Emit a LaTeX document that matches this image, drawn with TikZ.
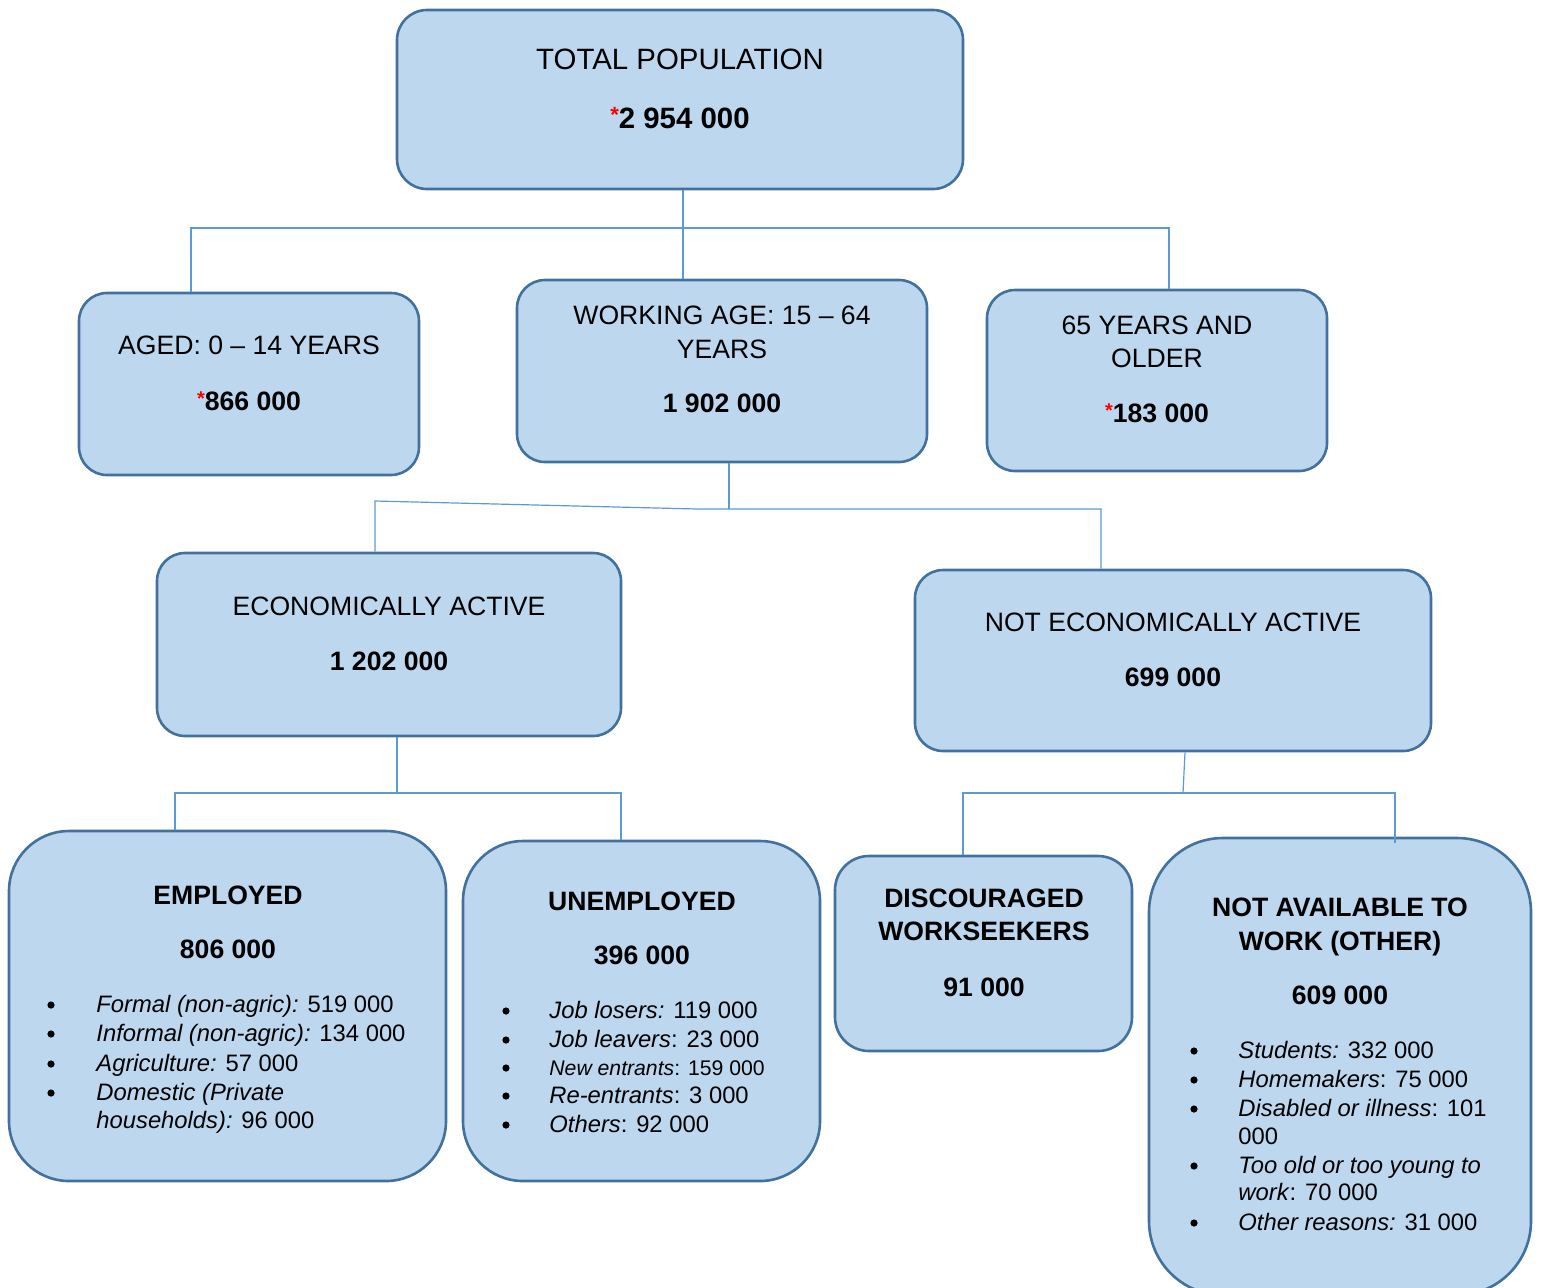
\documentclass[tikz,border=0pt]{standalone}
\usepackage{fontspec}
\usepackage{graphicx}
\setmainfont{Liberation Sans}
\definecolor{boxfill}{HTML}{BDD7EE}
\definecolor{boxline}{HTML}{41719C}
\definecolor{connc}{HTML}{5B9BD5}
\newcommand{\redast}{{\color{red}\bfseries\raisebox{0.2em}{\scalebox{0.75}{*}}}}
\tikzset{
  box/.style={draw=boxline, fill=boxfill, line width=1.3pt, rounded corners=14pt, inner sep=0pt},
  conn/.style={draw=connc, line width=0.6pt},
  tx/.style={inner sep=0pt, anchor=base},
  lx/.style={inner sep=0pt, anchor=base west},
  dot/.style={circle, fill=black, inner sep=0pt, minimum size=3.6pt},
  big/.style={font=\fontsize{14.7}{17}\selectfont},
  mid/.style={font=\fontsize{13.3}{16}\selectfont},
  sm/.style={font=\fontsize{11.9}{14}\selectfont},
  xs/.style={font=\fontsize{10.6}{13}\selectfont},
}
\begin{document}
\begin{tikzpicture}[x=0.5pt,y=-0.5pt]
\useasboundingbox (0,0) rectangle (1541,1287);
% boxes
\node[box, rounded corners=15pt, minimum width=283pt, minimum height=89.5pt] (total) at (680,99.5) {};
\node[box, minimum width=170pt, minimum height=91pt] (aged) at (249,384) {};
\node[box, minimum width=205pt, minimum height=91pt] (work) at (722,371) {};
\node[box, minimum width=170pt, minimum height=90.5pt] (old) at (1157,380.5) {};
\node[box, minimum width=232pt, minimum height=91.5pt] (econ) at (389,644.5) {};
\node[box, minimum width=258pt, minimum height=90.5pt] (notecon) at (1173,660.5) {};
\node[box, rounded corners=30pt, minimum width=218.5pt, minimum height=175pt] (emp) at (227.5,1006) {};
\node[box, rounded corners=30pt, minimum width=178.5pt, minimum height=170pt] (unemp) at (641.5,1011) {};
\node[box, rounded corners=17pt, minimum width=148.5pt, minimum height=97.5pt] (disc) at (983.5,953.5) {};
\node[box, rounded corners=37pt, minimum width=191pt, minimum height=228.5pt] (avail) at (1340,1066.5) {};
% junction coordinates
\coordinate (j1) at (683,228);
\coordinate (ja) at (191,228);
\coordinate (jb) at (1169,228);
\coordinate (j2) at (729,509);
\coordinate (jc) at (697,509);
\coordinate (jd) at (375,501);
\coordinate (je) at (1101,509);
\coordinate (j3) at (397,793);
\coordinate (jf) at (175,793);
\coordinate (jg) at (621,793);
\coordinate (j4t) at (1185,0);
\coordinate (j4) at (1183,793);
\coordinate (jh) at (963,793);
\coordinate (ji) at (1395,793);
\coordinate (ji2) at (1395,843);
% connectors
\draw[conn] (total.south -| j1) -- (j1) -- (work.north -| j1);
\draw[conn] (aged.north -| ja) -- (ja) -- (jb) -- (old.north -| jb);
\draw[conn] (work.south -| j2) -- (j2);
\draw[conn] (econ.north -| jd) -- (jd) -- (jc) -- (je) -- (notecon.north -| je);
\draw[conn] (econ.south -| j3) -- (j3);
\draw[conn] (emp.north -| jf) -- (jf) -- (jg) -- (unemp.north -| jg);
\draw[conn] (notecon.south -| j4t) -- (j4);
\draw[conn] (disc.north -| jh) -- (jh) -- (ji) -- (ji2);
% texts box 1
\node[tx,big] (t1a) at (680,69.5) {TOTAL POPULATION};
\node[tx,big] (t1b) at (680,128.5) {\redast\textbf{2 954 000}};
% box 2
\node[tx,mid] (t2a) at (249,354.5) {AGED: 0 – 14 YEARS};
\node[tx,mid] (t2b) at (249,410.5) {\redast\textbf{866 000}};
% box 3
\node[tx,mid] (t3a) at (722,324.5) {WORKING AGE: 15 – 64};
\node[tx,mid] (t3b) at (722,358.5) {YEARS};
\node[tx,mid] (t3c) at (722,412.5) {\textbf{1 902 000}};
% box 4
\node[tx,mid] (t4a) at (1157,334.5) {65 YEARS AND};
\node[tx,mid] (t4b) at (1157,367.5) {OLDER};
\node[tx,mid] (t4c) at (1157,422.5) {\redast\textbf{183 000}};
% box 5
\node[tx,mid] (t5a) at (389,615.5) {ECONOMICALLY ACTIVE};
\node[tx,mid] (t5b) at (389,670.5) {\textbf{1 202 000}};
% box 6
\node[tx,mid] (t6a) at (1173,631.5) {NOT ECONOMICALLY ACTIVE};
\node[tx,mid] (t6b) at (1173,686.5) {\textbf{699 000}};
% box 7
\node[tx,mid] (t7a) at (228,904.5) {\textbf{EMPLOYED}};
\node[tx,mid] (t7b) at (228,958.5) {\textbf{806 000}};
\foreach \yy/\nm in {1005/a,1034/b,1064/c,1093/d}
  \node[dot] (b7\nm) at (51,\yy) {};
\node[lx,sm] (l7a) at (96,1012.5) {\textit{Formal (non-agric):} 519 000};
\node[lx,sm] (l7b) at (96,1041.5) {\textit{Informal (non-agric):} 134 000};
\node[lx,sm] (l7c) at (96,1071.5) {\textit{Agriculture:} 57 000};
\node[lx,sm] (l7d) at (96,1100.5) {\textit{Domestic (Private}};
\node[lx,sm] (l7e) at (96,1128.5) {\textit{households):} 96 000};
% box 8
\node[tx,mid] (t8a) at (642,910.5) {\textbf{UNEMPLOYED}};
\node[tx,mid] (t8b) at (642,964.5) {\textbf{396 000}};
\foreach \yy/\nm in {1011/a,1040/b,1068/c,1096/d,1125/e}
  \node[dot] (b8\nm) at (506,\yy) {};
\node[lx,sm] (l8a) at (549,1018.5) {\textit{Job losers:} 119 000};
\node[lx,sm] (l8b) at (549,1047.5) {\textit{Job leavers}: 23 000};
\node[lx,xs] (l8c) at (549,1075.5) {\textit{New entrants}: 159 000};
\node[lx,sm] (l8d) at (549,1103.5) {\textit{Re-entrants}: 3 000};
\node[lx,sm] (l8e) at (549,1132.5) {\textit{Others}: 92 000};
% box 9
\node[tx,mid] (t9a) at (984,907.5) {\textbf{DISCOURAGED}};
\node[tx,mid] (t9b) at (984,940.5) {\textbf{WORKSEEKERS}};
\node[tx,mid] (t9c) at (984,996.5) {\textbf{91 000}};
% box 10
\node[tx,mid] (t10a) at (1340,916.5) {\textbf{NOT AVAILABLE TO}};
\node[tx,mid] (t10b) at (1340,950.5) {\textbf{WORK (OTHER)}};
\node[tx,mid] (t10c) at (1340,1004.5) {\textbf{609 000}};
\foreach \yy/\nm in {1051/a,1080/b,1109/c,1166/d,1223/e}
  \node[dot] (b10\nm) at (1194,\yy) {};
\node[lx,sm] (l10a) at (1238,1058.5) {\textit{Students:} 332 000};
\node[lx,sm] (l10b) at (1238,1087.5) {\textit{Homemakers}: 75 000};
\node[lx,sm] (l10c) at (1238,1116.5) {\textit{Disabled or illness}: 101};
\node[lx,sm] (l10d) at (1238,1144.5) {000};
\node[lx,sm] (l10e) at (1238,1173.5) {\textit{Too old or too young to}};
\node[lx,sm] (l10f) at (1238,1200.5) {\textit{work}: 70 000};
\node[lx,sm] (l10g) at (1238,1230.5) {\textit{Other reasons:} 31 000};
\end{tikzpicture}
\end{document}
